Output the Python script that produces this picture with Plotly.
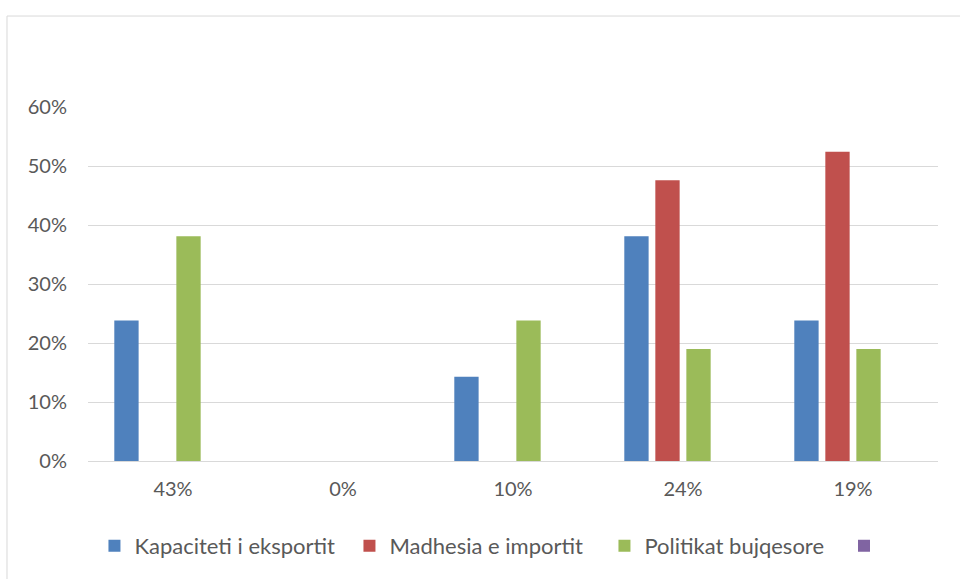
import plotly.graph_objects as go

categories = ["43%", "0%", "10%", "24%", "19%"]
kapaciteti = [0.238, 0, 0.143, 0.381, 0.238]
madhesia = [0, 0, 0, 0.476, 0.524]
politikat = [0.381, 0, 0.238, 0.190, 0.190]
purple_series = [None, None, None, None, None]

series_names = ["Kapaciteti i eksportit", "Madhesia e importit", "Politikat bujqesore", ""]
colors = ["#4F81BD", "#C0504D", "#9BBB59", "#8064A2"]
legend_ids = ["legend", "legend", "legend", "legend2"]
y_ticks = [0, 0.1, 0.2, 0.3, 0.4, 0.5, 0.6]

FONT = "Lato"
TXT = "#595959"

fig = go.Figure()
for name, vals, col, lg in zip(series_names, [kapaciteti, madhesia, politikat, purple_series],
                               colors, legend_ids):
    fig.add_trace(go.Bar(x=categories, y=vals, name=name, marker_color=col,
                         marker_line_width=0, legend=lg))

fig.update_layout(
    width=960, height=579,
    margin=dict(l=88, r=22, t=107, b=118),
    paper_bgcolor="white", plot_bgcolor="white",
    barmode="group", bargap=0.27, bargroupgap=0.216,
    font=dict(family=FONT, size=20, color=TXT),
    showlegend=True,
    legend=dict(orientation="h", x=0.0076, xanchor="left", y=-0.24, yanchor="middle",
                font=dict(family=FONT, size=22, color=TXT), traceorder="normal",
                entrywidth=210, entrywidthmode="pixels"),
    legend2=dict(orientation="h", x=0.8894, xanchor="left", y=-0.24, yanchor="middle",
                 font=dict(family=FONT, size=22, color=TXT)),
    xaxis=dict(showgrid=False, showline=False, zeroline=False, ticks="",
               tickfont=dict(family=FONT, size=20, color=TXT), ticklabelstandoff=14),
    yaxis=dict(range=[0, 0.6], tickvals=y_ticks, tickformat=".0%",
               showgrid=True, gridcolor="#D9D9D9", gridwidth=1,
               zeroline=True, zerolinecolor="#D9D9D9", zerolinewidth=1,
               showline=False, ticks="",
               tickfont=dict(family=FONT, size=20, color=TXT), ticklabelstandoff=20),
    shapes=[dict(type="rect", xref="paper", yref="paper",
                 x0=-0.0953, x1=1.2, y0=-0.6, y1=1.257,
                 line=dict(color="#D9D9D9", width=1), layer="below")],
)

fig.write_html("out.html", config={"displayModeBar": False})

with open("out.html", "r", encoding="utf-8") as f:
    html = f.read()
html = html.replace("<body>", '<body style="margin:0;overflow:hidden">', 1)
with open("out.html", "w", encoding="utf-8") as f:
    f.write(html)
